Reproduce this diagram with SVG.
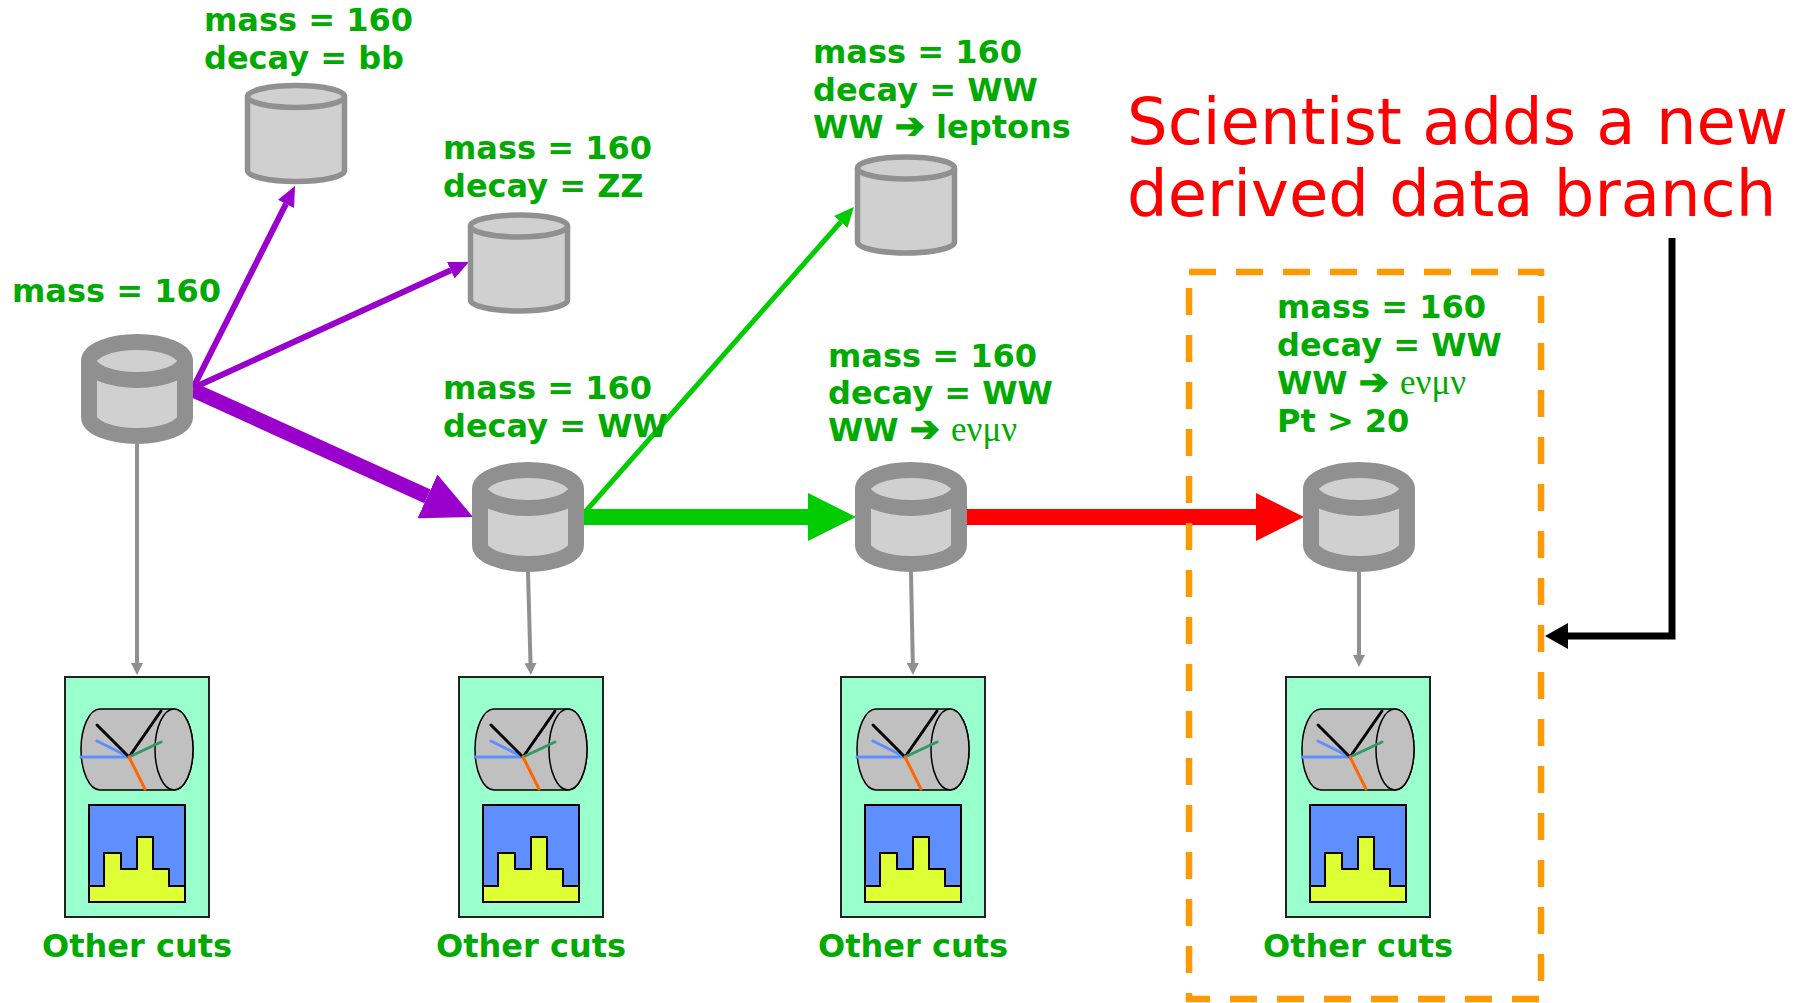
<svg xmlns="http://www.w3.org/2000/svg" xmlns:xlink="http://www.w3.org/1999/xlink" width="1809" height="1003" viewBox="0 0 1809 1003">
  <style>
    .lbl { font-family: "DejaVu Sans", Verdana, sans-serif; font-weight: bold; font-size: 32px; fill: #00aa00; }
    .greek { font-family: "Liberation Serif", "DejaVu Serif", serif; font-weight: normal; font-size: 35px; }
    .arr { font-size: 36px; stroke: #00aa00; stroke-width: 1.2; }
    .cuts { font-family: "DejaVu Sans", Verdana, sans-serif; font-weight: bold; font-size: 32px; fill: #00aa00; text-anchor: middle; }
    .note { font-family: "DejaVu Sans", Verdana, sans-serif; font-size: 64px; fill: #ff0000; }
    .cyl { fill: #d0d0d0; stroke: #909090; stroke-linejoin: round; }
    .big { stroke-width: 16; }
    .small { stroke-width: 5.5; }
    .conn { fill: none; stroke-linecap: butt; }
    .trk { stroke-width: 3; stroke-linecap: round; fill: none; }
  </style>
  <defs>
    <!-- storage cylinders, centred on the origin -->
    <g id="cylBig" class="cyl big">
      <path d="M-48,-28 L-48,28 A48,19 0 0 0 48,28 L48,-28 A48,19 0 0 0 -48,-28 Z"/>
      <path d="M-48,-28 A48,19 0 0 0 48,-28" fill="none"/>
    </g>
    <g id="cylSmall" class="cyl small">
      <path d="M-48.5,-37 L-48.5,37 A48.5,11 0 0 0 48.5,37 L48.5,-37 A48.5,11 0 0 0 -48.5,-37 Z"/>
      <path d="M-48.5,-37 A48.5,11 0 0 0 48.5,-37" fill="none"/>
    </g>
    <!-- analysis panel: detector view above a histogram -->
    <g id="panel">
      <rect x="0" y="0" width="144" height="240" fill="#99ffcc" stroke="#222222" stroke-width="2"/>
      <path d="M35,32 L109,32 A19,40.5 0 0 1 109,113 L35,113 A19,40.5 0 0 1 35,32 Z" fill="#c0c0c0" stroke="#000" stroke-width="1.5"/>
      <ellipse cx="109" cy="72.5" rx="19" ry="40.5" fill="#c0c0c0" stroke="#000" stroke-width="1.5"/>
      <line class="trk" x1="64" y1="80" x2="16" y2="80" stroke="#5f8fff"/>
      <line class="trk" x1="64" y1="80" x2="32" y2="64" stroke="#5f8fff"/>
      <line class="trk" x1="64" y1="80" x2="32" y2="48" stroke="#000"/>
      <line class="trk" x1="64" y1="80" x2="96" y2="34" stroke="#000"/>
      <line class="trk" x1="64" y1="80" x2="96" y2="65" stroke="#339966"/>
      <line class="trk" x1="64" y1="80" x2="80" y2="112" stroke="#ff6600"/>
      <rect x="24" y="128" width="96" height="97" fill="#5f8fff" stroke="#000" stroke-width="2"/>
      <polygon points="24,225 24,209 39,209 39,176 56,176 56,192 72,192 72,160 88,160 88,192 104,192 104,209 120,209 120,225" fill="#ddff33" stroke="#000" stroke-width="2"/>
    </g>
    <!-- arrowheads -->
    <marker id="hPurpleBig" markerUnits="userSpaceOnUse" markerWidth="50" markerHeight="48" viewBox="0 0 50 48" refX="0" refY="24" orient="auto">
      <path d="M0,0 L50,24 L0,48 Z" fill="#9900cc"/>
    </marker>
    <marker id="hGreenBig" markerUnits="userSpaceOnUse" markerWidth="48" markerHeight="48" viewBox="0 0 48 48" refX="0" refY="24" orient="auto">
      <path d="M0,0 L48,24 L0,48 Z" fill="#00cc00"/>
    </marker>
    <marker id="hRedBig" markerUnits="userSpaceOnUse" markerWidth="48" markerHeight="48" viewBox="0 0 48 48" refX="0" refY="24" orient="auto">
      <path d="M0,0 L48,24 L0,48 Z" fill="#ff0000"/>
    </marker>
    <marker id="hPurple" markerUnits="userSpaceOnUse" markerWidth="20" markerHeight="18" viewBox="0 0 20 18" refX="0" refY="9" orient="auto">
      <path d="M0,0 L20,9 L0,18 Z" fill="#9900cc"/>
    </marker>
    <marker id="hGreen" markerUnits="userSpaceOnUse" markerWidth="20" markerHeight="18" viewBox="0 0 20 18" refX="0" refY="9" orient="auto">
      <path d="M0,0 L20,9 L0,18 Z" fill="#00cc00"/>
    </marker>
    <marker id="hGray" markerUnits="userSpaceOnUse" markerWidth="12" markerHeight="12" viewBox="0 0 12 12" refX="0" refY="6" orient="auto">
      <path d="M0,0 L12,6 L0,12 Z" fill="#909090"/>
    </marker>
    <marker id="hBlack" markerUnits="userSpaceOnUse" markerWidth="23" markerHeight="26" viewBox="0 0 23 26" refX="0" refY="13" orient="auto">
      <path d="M0,0 L23,13 L0,26 Z" fill="#000"/>
    </marker>
  </defs>

  <rect width="1809" height="1003" fill="#ffffff"/>

  <!-- connectors -->
  <g id="connectors" class="conn">
    <path d="M193,388 L286,203.9" stroke="#9900cc" stroke-width="6" marker-end="url(#hPurple)"/>
    <path d="M193,388 L450.8,270.3" stroke="#9900cc" stroke-width="6" marker-end="url(#hPurple)"/>
    <path d="M193,390 L427.5,496.4" stroke="#9900cc" stroke-width="15" marker-end="url(#hPurpleBig)"/>
    <path d="M586,511 L840.7,222" stroke="#00cc00" stroke-width="5" marker-end="url(#hGreen)"/>
    <path d="M583,517 L808,517" stroke="#00cc00" stroke-width="16" marker-end="url(#hGreenBig)"/>
    <path d="M967,517 L1256,517" stroke="#ff0000" stroke-width="16" marker-end="url(#hRedBig)"/>
    <path d="M137,444 L137,663" stroke="#909090" stroke-width="4" marker-end="url(#hGray)"/>
    <path d="M528,572 L530.5,663" stroke="#909090" stroke-width="4" marker-end="url(#hGray)"/>
    <path d="M911,572 L912.8,663" stroke="#909090" stroke-width="4" marker-end="url(#hGray)"/>
    <path d="M1359,572 L1359,655" stroke="#909090" stroke-width="4" marker-end="url(#hGray)"/>
  </g>

  <!-- data sets -->
  <g id="node-mass160">
    <use xlink:href="#cylBig" transform="translate(137,389)"/>
    <text class="lbl" x="12" y="302">mass = 160</text>
  </g>
  <g id="node-bb">
    <use xlink:href="#cylSmall" transform="translate(296,133.5)"/>
    <text class="lbl" x="204" y="31">mass = 160</text>
    <text class="lbl" x="204" y="69">decay = bb</text>
  </g>
  <g id="node-zz">
    <use xlink:href="#cylSmall" transform="translate(519,263)"/>
    <text class="lbl" x="443" y="159">mass = 160</text>
    <text class="lbl" x="443" y="197">decay = ZZ</text>
  </g>
  <g id="node-ww">
    <use xlink:href="#cylBig" transform="translate(528,517)"/>
    <text class="lbl" x="443" y="399">mass = 160</text>
    <text class="lbl" x="443" y="437">decay = WW</text>
  </g>
  <g id="node-leptons">
    <use xlink:href="#cylSmall" transform="translate(906,205)"/>
    <text class="lbl" x="813" y="63">mass = 160</text>
    <text class="lbl" x="813" y="101">decay = WW</text>
    <text class="lbl" x="813" y="138">WW <tspan class="arr">➔</tspan> leptons</text>
  </g>
  <g id="node-enumunu">
    <use xlink:href="#cylBig" transform="translate(911,517)"/>
    <text class="lbl" x="828" y="367">mass = 160</text>
    <text class="lbl" x="828" y="404">decay = WW</text>
    <text class="lbl" x="828" y="441">WW <tspan class="arr">➔</tspan> <tspan class="greek">eνμν</tspan></text>
  </g>
  <g id="node-pt20">
    <use xlink:href="#cylBig" transform="translate(1359,517)"/>
    <text class="lbl" x="1277" y="318">mass = 160</text>
    <text class="lbl" x="1277" y="356">decay = WW</text>
    <text class="lbl" x="1277" y="394">WW <tspan class="arr">➔</tspan> <tspan class="greek">eνμν</tspan></text>
    <text class="lbl" x="1277" y="432">Pt &gt; 20</text>
  </g>

  <!-- analysis panels -->
  <g id="cuts-mass160">
    <use xlink:href="#panel" transform="translate(65,677)"/>
    <text class="cuts" x="137" y="957">Other cuts</text>
  </g>
  <g id="cuts-ww">
    <use xlink:href="#panel" transform="translate(459,677)"/>
    <text class="cuts" x="531" y="957">Other cuts</text>
  </g>
  <g id="cuts-enumunu">
    <use xlink:href="#panel" transform="translate(841,677)"/>
    <text class="cuts" x="913" y="957">Other cuts</text>
  </g>
  <g id="cuts-pt20">
    <use xlink:href="#panel" transform="translate(1286,677)"/>
    <text class="cuts" x="1358" y="957">Other cuts</text>
  </g>

  <!-- new branch highlight and annotation -->
  <g id="new-branch">
    <rect x="1189" y="272" width="352" height="727" fill="none" stroke="#ff9900" stroke-width="6.5" stroke-dasharray="27 20"/>
  </g>
  <g id="annotation">
    <text class="note" x="1127" y="144">Scientist adds a new</text>
    <text class="note" x="1127" y="216">derived data branch</text>
    <path d="M1672,238 L1672,636 L1568,636" fill="none" stroke="#000" stroke-width="7" stroke-linejoin="miter" marker-end="url(#hBlack)"/>
  </g>
</svg>
